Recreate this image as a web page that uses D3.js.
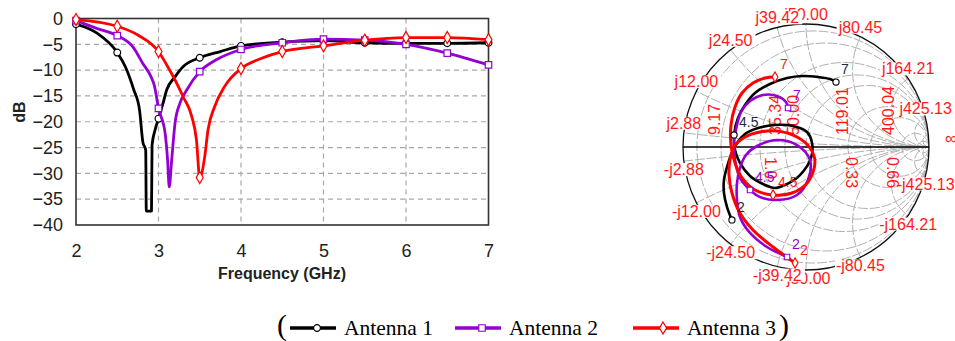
<!DOCTYPE html>
<html><head><meta charset="utf-8">
<script src="https://cdn.jsdelivr.net/npm/d3@7"></script>
<style>body{margin:0;background:#fff;} svg{display:block;}</style>
</head><body>
<svg id="c" width="955" height="341"></svg>
<script>
// ---------- S11 (dB) data ----------
const xTicks = [2, 3, 4, 5, 6, 7];
const yTicks = [0, -5, -10, -15, -20, -25, -30, -35, -40];
const seriesNames = ["Antenna 1", "Antenna 2", "Antenna 3"];
const seriesColors = ["#000000", "#9400d3", "#ff0000"];

const freq1 = [2.0,2.25,2.5,2.6,2.7,2.77,2.81,2.845,2.852,2.915,2.922,2.96,3.0,3.05,3.1,3.2,3.3,3.5,3.75,4.0,4.5,5.0,5.5,6.0,6.5,7.0];
const db1   = [-1.1,-2.8,-6.6,-9.4,-13.8,-17.7,-23.9,-25.5,-37.3,-37.3,-24.5,-21.5,-19.4,-16.7,-13.8,-11.3,-9.3,-7.6,-6.4,-5.3,-4.6,-4.3,-4.7,-4.8,-4.8,-4.7];

const freq2 = [2.0,2.25,2.5,2.69,2.81,2.91,2.95,3.0,3.08,3.11,3.13,3.16,3.2,3.26,3.34,3.5,3.7,4.0,4.5,5.0,5.5,6.0,6.5,7.0];
const db2   = [-0.4,-1.9,-3.3,-5.5,-8.7,-11.3,-13.0,-17.4,-22.2,-27.4,-32.6,-27.4,-20.3,-16.4,-13.9,-10.3,-8.0,-6.0,-4.7,-4.0,-4.2,-5.0,-6.7,-9.0];

const freq3 = [2.0,2.5,2.75,3.0,3.1,3.2,3.3,3.4,3.46,3.5,3.56,3.6,3.68,3.8,4.0,4.25,4.5,5.0,5.5,6.0,6.5,7.0];
const db3   = [-0.2,-1.5,-3.2,-6.4,-9.0,-11.9,-15.2,-18.8,-23.5,-30.8,-26.8,-21.6,-17.1,-13.2,-9.7,-7.7,-6.4,-5.3,-4.2,-3.7,-3.7,-4.1];

// ---------- Smith chart data (reflection coefficient, real / imag) ----------
const smRe1 = [-0.602,-0.642,-0.667,-0.667,-0.642,-0.610,-0.561,-0.496,-0.390,-0.252,-0.106,0.008,0.049,0.041,-0.049,-0.171,-0.252,-0.350,-0.455,-0.537,-0.577,-0.585,-0.553,-0.496,-0.415,-0.293,-0.154,-0.024,0.098,0.195,0.244];
const smIm1 = [-0.593,-0.488,-0.374,-0.268,-0.163,-0.065,0.033,0.106,0.154,0.179,0.171,0.122,0.033,-0.089,-0.228,-0.309,-0.333,-0.301,-0.236,-0.130,-0.024,0.098,0.236,0.341,0.439,0.512,0.561,0.577,0.569,0.553,0.528];
const smRe2 = [-0.154,-0.317,-0.455,-0.537,-0.561,-0.561,-0.537,-0.488,-0.398,-0.236,-0.073,0.033,0.016,-0.073,-0.236,-0.374,-0.455,-0.537,-0.577,-0.585,-0.561,-0.528,-0.455,-0.350,-0.236,-0.163,-0.146];
const smIm2 = [-0.894,-0.813,-0.699,-0.569,-0.431,-0.293,-0.171,-0.065,0.008,0.057,0.016,-0.106,-0.268,-0.390,-0.431,-0.407,-0.350,-0.252,-0.106,0.041,0.179,0.285,0.374,0.423,0.415,0.366,0.317];
const smRe3 = [-0.089,-0.268,-0.431,-0.537,-0.602,-0.626,-0.618,-0.585,-0.496,-0.374,-0.236,-0.073,0.033,0.073,0.016,-0.114,-0.268,-0.415,-0.520,-0.577,-0.610,-0.610,-0.577,-0.520,-0.431,-0.333,-0.252];
const smIm3 = [-0.943,-0.813,-0.675,-0.537,-0.374,-0.228,-0.106,0.000,0.081,0.122,0.130,0.081,-0.008,-0.122,-0.285,-0.374,-0.390,-0.350,-0.252,-0.130,0.016,0.179,0.325,0.439,0.520,0.561,0.569];
const smMarkIdx1 = [0, 21, 30];
const smMarkIdx2 = [0, 16, 26];
const smMarkIdx3 = [0, 16, 26];
const smMarkLabels = ["2", "4.5", "7"];

// Smith grid & labels (ohms, Z0 = 50)
const z0 = 50;
const reactOhms = [2.88, 12.00, 24.50, 50.00, 39.42, 80.45, 164.21, 425.13];
const resistGrid = [0.06, 0.183, 0.455, 0.707, 1, 2.04, 3.2, 8, 20];
const reactGrid = [0.0576, 0.24, 0.49, 0.788, 1, 1.609, 3.284, 8.5, 20];
const resLabelsTop = ["9.17", "35.34", "50.00", "119.01", "400.04"];
const resLabelsTopPos = [-0.74, -0.25, -0.10, 0.297, 0.672];
const resLabelsBot = ["1.0", "0.33", "0.66"];
const resLabelsBotPos = [-0.29, 0.366, 0.70];

// ---------------- drawing ----------------
const svg = d3.select("#c");
const FONT = "Liberation Sans, Arial, sans-serif";

// ===== Left chart =====
const xS = d3.scaleLinear().domain([2, 7]).range([76, 488.5]);
const yS = d3.scaleLinear().domain([-40, 0]).range([225, 18.5]);
const gL = svg.append("g");

gL.selectAll("line.vg").data(xTicks.slice(1, -1)).join("line")
  .attr("x1", d => xS(d)).attr("x2", d => xS(d))
  .attr("y1", yS(0)).attr("y2", yS(-40))
  .attr("stroke", "#a8a8a8").attr("stroke-width", 1.2).attr("stroke-dasharray", "5,4");
gL.selectAll("line.hg").data(yTicks.slice(1, -1)).join("line")
  .attr("y1", d => yS(d)).attr("y2", d => yS(d))
  .attr("x1", xS(2)).attr("x2", xS(7))
  .attr("stroke", "#a8a8a8").attr("stroke-width", 1.2).attr("stroke-dasharray", "5,4");
gL.append("rect").attr("x", xS(2)).attr("y", yS(0))
  .attr("width", xS(7) - xS(2)).attr("height", yS(-40) - yS(0))
  .attr("fill", "none").attr("stroke", "#333").attr("stroke-width", 1.6);

const axL = gL.append("g").attr("transform", `translate(${xS(2)},0)`)
  .call(d3.axisLeft(yS).tickValues(yTicks).tickSize(0).tickPadding(13).tickFormat(d3.format("d")));
axL.select(".domain").remove();
axL.selectAll("text").attr("font-family", FONT).attr("font-size", 18).attr("fill", "#222");
const axB = gL.append("g").attr("transform", `translate(0,${yS(-40)})`)
  .call(d3.axisBottom(xS).tickValues(xTicks).tickSize(0).tickPadding(19).tickFormat(d3.format("d")));
axB.select(".domain").remove();
axB.selectAll("text").attr("font-family", FONT).attr("font-size", 18).attr("fill", "#222");

gL.append("text").attr("x", 282).attr("y", 279).attr("text-anchor", "middle")
  .attr("font-family", FONT).attr("font-size", 16).attr("font-weight", "bold").attr("fill", "#222")
  .text("Frequency (GHz)");
gL.append("text").attr("transform", "translate(25,112) rotate(-90)").attr("text-anchor", "middle")
  .attr("font-family", FONT).attr("font-size", 16).attr("font-weight", "bold").attr("fill", "#222")
  .text("dB");

const seriesL = [
  {f: freq1, v: db1}, {f: freq2, v: db2}, {f: freq3, v: db3}
];
const lineL = d3.line().x(d => xS(d[0])).y(d => yS(d[1])).curve(d3.curveMonotoneX);
const symbols = [d3.symbolCircle, d3.symbolSquare, d3.symbolDiamond];
const symSizes = [36, 42, 42];
seriesL.forEach((s, i) => {
  const pts = s.f.map((f, k) => [f, s.v[k]]);
  gL.append("path").attr("d", lineL(pts)).attr("fill", "none")
    .attr("stroke", seriesColors[i]).attr("stroke-width", 2.8).attr("stroke-linejoin", "round");
  const mk = pts.filter(p => Math.abs(p[0] * 2 - Math.round(p[0] * 2)) < 1e-6);
  gL.selectAll(null).data(mk).join("path")
    .attr("transform", d => `translate(${xS(d[0])},${yS(d[1])})`)
    .attr("d", d3.symbol(symbols[i], symSizes[i]))
    .attr("fill", "#fff").attr("stroke", seriesColors[i]).attr("stroke-width", 1.2);
});

// ===== Legend =====
const LFONT = "Liberation Serif, 'Times New Roman', serif";
const gLeg = svg.append("g");
gLeg.append("text").attr("x", 277).attr("y", 335).attr("font-family", LFONT).attr("font-size", 30).text("(");
gLeg.append("text").attr("x", 779).attr("y", 335).attr("font-family", LFONT).attr("font-size", 30).text(")");
const legX = [290, 455, 633];
seriesNames.forEach((n, i) => {
  const x0 = legX[i];
  gLeg.append("line").attr("x1", x0).attr("x2", x0 + 46).attr("y1", 328).attr("y2", 328)
    .attr("stroke", seriesColors[i]).attr("stroke-width", 3.5);
  gLeg.append("path").attr("transform", `translate(${x0 + [27, 27, 30][i]},328)`)
    .attr("d", d3.symbol(symbols[i], symSizes[i]))
    .attr("fill", "#fff").attr("stroke", seriesColors[i]).attr("stroke-width", 1.2);
  gLeg.append("text").attr("x", x0 + 54).attr("y", 335).attr("font-family", LFONT)
    .attr("font-size", 21.5).attr("fill", "#000").text(n);
});

// ===== Smith chart =====
const sx = d3.scaleLinear().domain([-1, 1]).range([683, 929]);
const sy = d3.scaleLinear().domain([-1, 1]).range([270, 24]);
const R = sx(1) - sx(0);
const gS = svg.append("g");
gS.append("clipPath").attr("id", "smclip").append("circle")
  .attr("cx", sx(0)).attr("cy", sy(0)).attr("r", R);
const grid = gS.append("g").attr("clip-path", "url(#smclip)")
  .attr("fill", "none").attr("stroke", "#b0b0b0").attr("stroke-width", 1)
  .attr("stroke-dasharray", "10,2");
resistGrid.forEach(r => {
  grid.append("circle").attr("cx", sx(r / (1 + r))).attr("cy", sy(0)).attr("r", R / (1 + r));
});
reactGrid.forEach(x => {
  [1, -1].forEach(sg => {
    grid.append("circle").attr("cx", sx(1)).attr("cy", sy(sg / x)).attr("r", R / x);
  });
});
gS.append("circle").attr("cx", sx(0)).attr("cy", sy(0)).attr("r", R)
  .attr("fill", "none").attr("stroke", "#111").attr("stroke-width", 1.3);
gS.append("line").attr("x1", sx(-1)).attr("x2", sx(1)).attr("y1", sy(0)).attr("y2", sy(0))
  .attr("stroke", "#000").attr("stroke-width", 1.6);

// outer reactance labels
const RED = "#ff1a1a";
function boxedText(g, x, y, txt) {
  const t = g.append("text").attr("x", x).attr("y", y).attr("text-anchor", "middle")
    .attr("font-family", FONT).attr("font-size", 16).attr("fill", RED).text(txt);
  const b = t.node().getBBox();
  g.insert("rect", () => t.node()).attr("x", b.x - 1).attr("y", b.y + 2)
    .attr("width", b.width + 4).attr("height", b.height - 4).attr("fill", "#fff");
}
reactOhms.forEach(v => {
  const xn = v / z0;
  const ang = Math.PI - 2 * Math.atan(xn);
  boxedText(gS, sx(Math.cos(ang)), sy(Math.sin(ang)) - 4, "j" + v.toFixed(2));
});
reactOhms.forEach(v => {
  const xn = v / z0;
  const ang = Math.PI - 2 * Math.atan(xn);
  boxedText(gS, sx(Math.cos(ang)), sy(-Math.sin(ang)) + 14, "-j" + v.toFixed(2));
});
gS.append("text").attr("x", sx(1) + 16).attr("y", sy(0) - 3)
  .attr("font-family", FONT).attr("font-size", 17).attr("fill", RED).text("∞");

// rotated resistance labels
resLabelsTop.forEach((t, i) => {
  gS.append("text").attr("transform", `translate(${sx(resLabelsTopPos[i])},${sy(0) - 12}) rotate(-90)`)
    .attr("dominant-baseline", "central").attr("font-family", FONT).attr("font-size", 16)
    .attr("fill", RED).text(t);
});
resLabelsBot.forEach((t, i) => {
  gS.append("text").attr("transform", `translate(${sx(resLabelsBotPos[i])},${sy(0) + 10}) rotate(90)`)
    .attr("dominant-baseline", "central").attr("font-family", FONT).attr("font-size", 16)
    .attr("fill", RED).text(t);
});

// curves
const smSeries = [
  {re: smRe1, im: smIm1, mk: smMarkIdx1, w: 2.6},
  {re: smRe2, im: smIm2, mk: smMarkIdx2, w: 2.6},
  {re: smRe3, im: smIm3, mk: smMarkIdx3, w: 3}
];
const lineS = d3.line().x(d => sx(d[0])).y(d => sy(d[1])).curve(d3.curveCatmullRom.alpha(0.5));
const labCol = ["#1c2a44", "#9400d3", "#ff1a1a"];
smSeries.forEach((s, i) => {
  const pts = s.re.map((r, k) => [r, s.im[k]]);
  gS.append("path").attr("d", lineS(pts)).attr("fill", "none")
    .attr("stroke", seriesColors[i]).attr("stroke-width", s.w).attr("stroke-linejoin", "round");
});
smSeries.forEach((s, i) => {
  s.mk.forEach((k, j) => {
    const x = sx(s.re[k]), y = sy(s.im[k]);
    gS.append("path").attr("transform", `translate(${x},${y})`)
      .attr("d", d3.symbol(symbols[i], 30))
      .attr("fill", "#fff").attr("stroke", seriesColors[i]).attr("stroke-width", 1.1);
    gS.append("text").attr("x", x + 5).attr("y", y - 8)
      .attr("font-family", FONT).attr("font-size", 14).attr("fill", labCol[i]).text(smMarkLabels[j]);
  });
});
</script>
</body></html>
